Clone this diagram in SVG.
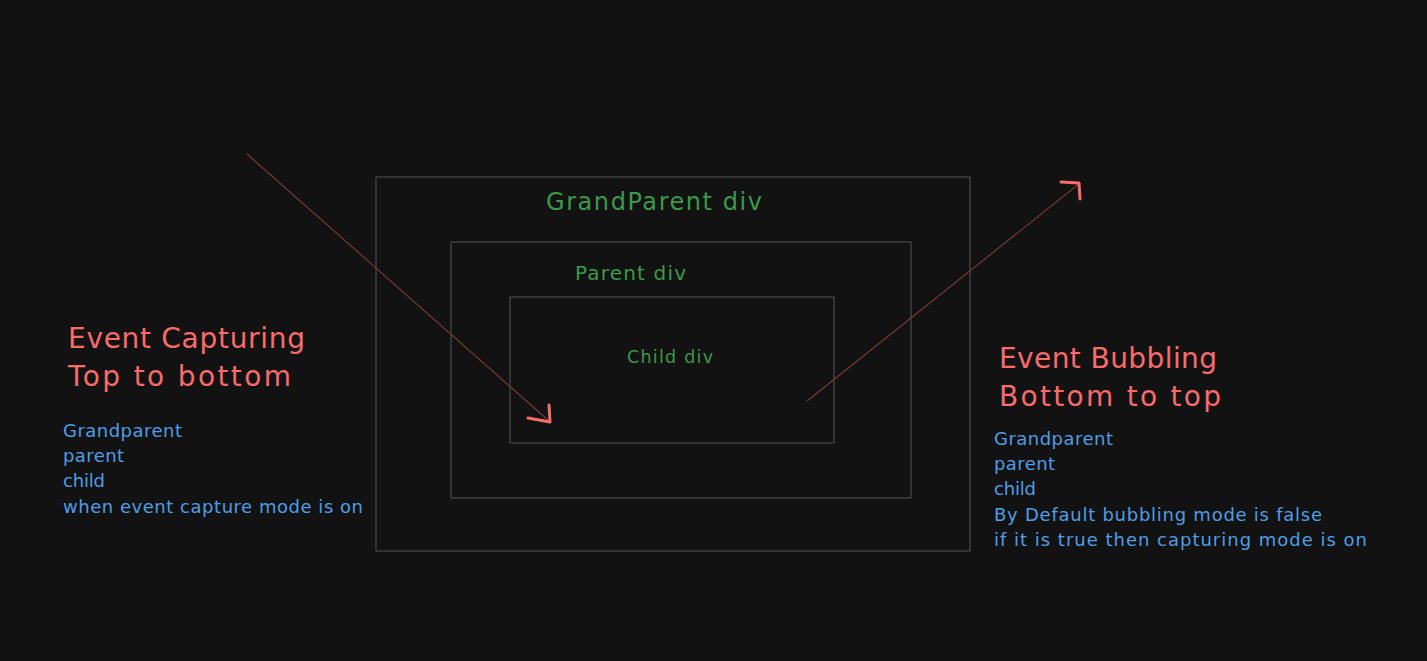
<svg xmlns="http://www.w3.org/2000/svg" width="1427" height="661" viewBox="0 0 1427 661">
<style>
.box{fill:none;stroke:#4a4a4a;stroke-width:1.2}
.t{font-family:"DejaVu Sans","Liberation Sans",sans-serif}
.red{fill:#f96b6b;font-size:28px}
.blue{fill:#4d9ee6;font-size:18px}
.green{fill:#3a9a48}
.shaft{stroke:#7a3b3b;stroke-width:1.1;fill:none}
.head{stroke:#f96b6b;stroke-width:3;fill:none;stroke-linecap:round;stroke-linejoin:round}
</style>
<rect width="1427" height="661" fill="#121212"/>
<g id="grandparent">
<rect class="box" x="376" y="177" width="594" height="374"/>
<text class="t green" x="546" y="210" font-size="24" textLength="216">GrandParent div</text>
</g>
<g id="parent">
<rect class="box" x="451" y="242" width="460" height="256"/>
<text class="t green" x="575" y="280" font-size="20" textLength="111">Parent div</text>
</g>
<g id="child">
<rect class="box" x="510" y="297" width="324" height="146"/>
<text class="t green" x="627" y="363" font-size="17.5" textLength="86">Child div</text>
</g>
<g id="capturing">
<text class="t red" x="68" y="348" textLength="237">Event Capturing</text>
<text class="t red" x="68" y="386" textLength="223">Top to bottom</text>
<text class="t blue" x="63" y="437" textLength="119">Grandparent</text>
<text class="t blue" x="63" y="462" textLength="61">parent</text>
<text class="t blue" x="63" y="487" textLength="42">child</text>
<text class="t blue" x="63" y="513" textLength="300">when event capture mode is on</text>
</g>
<g id="bubbling">
<text class="t red" x="999" y="368" textLength="218">Event Bubbling</text>
<text class="t red" x="999" y="406" textLength="222">Bottom to top</text>
<text class="t blue" x="994" y="445" textLength="119">Grandparent</text>
<text class="t blue" x="994" y="470" textLength="61">parent</text>
<text class="t blue" x="994" y="495" textLength="42">child</text>
<text class="t blue" x="994" y="521" textLength="328">By Default bubbling mode is false</text>
<text class="t blue" x="994" y="546" textLength="373">if it is true then capturing mode is on</text>
</g>
<g id="connectors">
<path class="shaft" d="M247 154 L549 421"/>
<path class="head" d="M528 418 L550 422 L549 405"/>
<path class="shaft" d="M807 401 L1080 183"/>
<path class="head" d="M1061 182 L1079 183 L1080 199"/>
</g>
</svg>
